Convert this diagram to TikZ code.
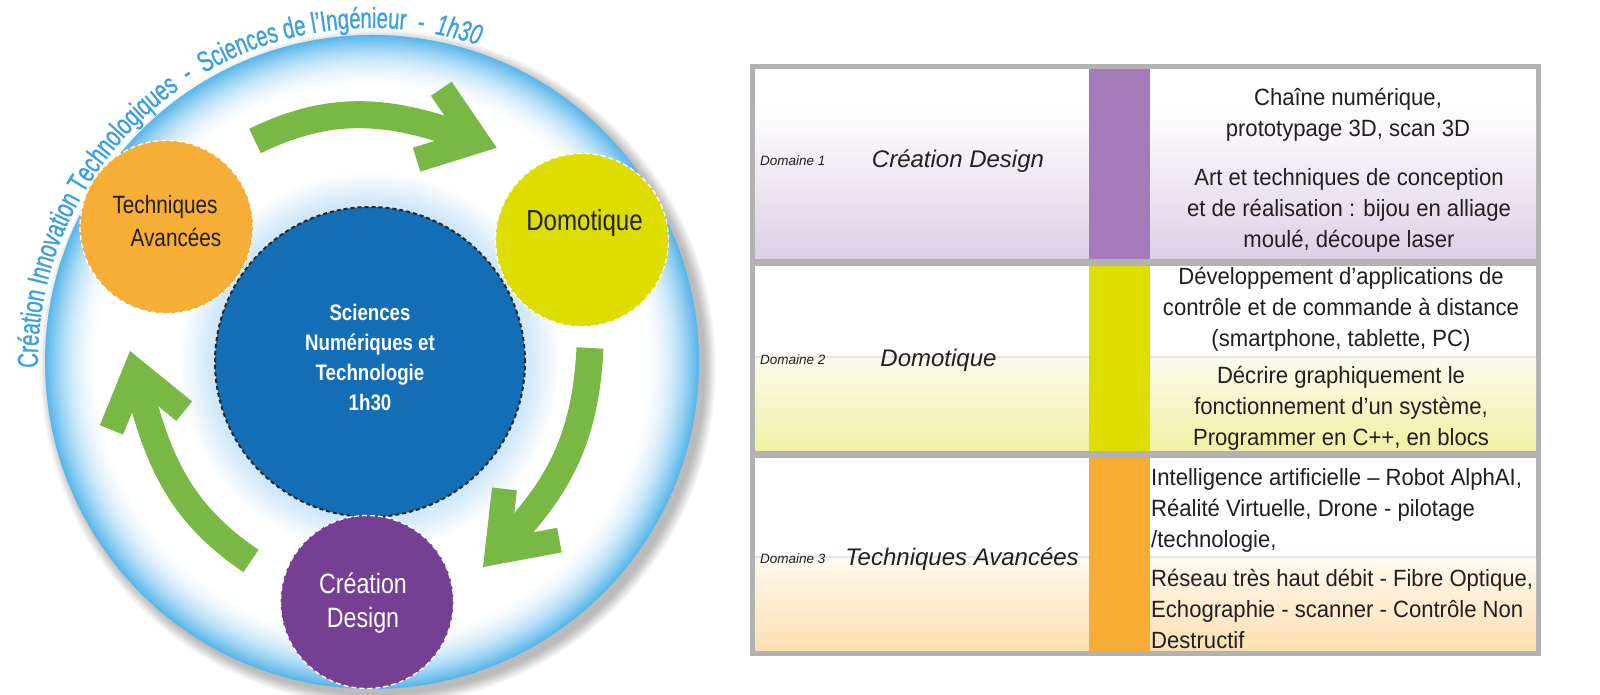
\documentclass[tikz,border=0pt]{standalone}
\usepackage{fontspec}
\setmainfont{Liberation Sans}
\newfontfamily\condfont[FakeStretch=0.83]{Liberation Sans}
\newfontfamily\arcfont[FakeStretch=0.7,FakeBold=0.8]{Liberation Sans}
\newfontfamily\tabfont[FakeStretch=0.94]{Liberation Sans}
\usetikzlibrary{decorations.text,calc}
\definecolor{rimblue}{RGB}{88,182,234}
\definecolor{haloblue}{RGB}{205,230,248}
\definecolor{textblue}{RGB}{60,160,220}
\definecolor{coreblue}{RGB}{20,110,182}
\definecolor{orangeC}{RGB}{246,174,54}
\definecolor{yellowC}{RGB}{221,221,0}
\definecolor{purpleC}{RGB}{117,64,147}
\definecolor{arrowgreen}{RGB}{122,184,70}
\definecolor{tablegray}{RGB}{178,178,178}
\definecolor{barpurple}{RGB}{164,123,185}
\definecolor{baryellow}{RGB}{222,222,0}
\definecolor{barorange}{RGB}{247,173,51}
\definecolor{rowpurple}{RGB}{221,208,230}
\definecolor{rowyellow}{RGB}{240,240,165}
\definecolor{roworange}{RGB}{252,224,178}
\definecolor{ink}{RGB}{35,31,32}
\tikzset{
  smallcirc/.style={circle, minimum size=173pt, inner sep=0pt, draw=white, line width=1.3pt, dash pattern=on 5pt off 3pt},
  corecirc/.style={circle, minimum size=310pt, inner sep=0pt, fill=coreblue, draw=black!85, line width=2pt, dash pattern=on 4pt off 3pt},
  circtext/.style={align=center, inner sep=0pt},
  arrowbody/.style={draw=arrowgreen, line width=27pt},
  arrowhead/.style={fill=arrowgreen},
  cell/.style={font=\tabfont\fontsize{23.5}{31}\selectfont, inner sep=0pt, text=ink},
  rowlabel/.style={font=\itshape\fontsize{24}{28}\selectfont, inner sep=0pt, text=ink},
  domlabel/.style={font=\itshape\fontsize{13.5}{16}\selectfont, inner sep=0pt, text=ink, anchor=west},
}
\begin{document}
\begin{tikzpicture}[x=1pt,y=1pt]
\useasboundingbox (0,0) rectangle (1600,695);
\fill[white] (0,0) rectangle (1600,695);
\coordinate (C) at (372,333);
% drop shadow
\foreach \i in {1,...,12} { \fill[black,opacity=0.022] ([xshift=6pt,yshift=-6pt]C) circle ({339-\i}); }
% ring gradient
\fill[rimblue] (C) circle (327);
\foreach \i in {1,...,40} { \pgfmathsetmacro\pp{100*(1-\i/40)^2} \fill[rimblue!\pp!white] (C) circle ({327-1.4*\i}); }
% halo around core
\foreach \i in {0,...,24} { \pgfmathsetmacro\hh{4*\i} \fill[haloblue!\hh!white] (370,333) circle ({192-1.4*\i}); }
% curved title
\path[decorate, decoration={text along path, text align=left, text color=textblue,
  text={|\arcfont\fontsize{29}{34}\selectfont|Création Innovation Technologiques {\ -\ } Sciences de l’Ingénieur {\ -\ } |\arcfont\fontsize{29}{34}\selectfont\itshape|1h30}}]
  ([shift={(181:334)}]C) arc[start angle=181, end angle=50, radius=334];
% green arrows
\coordinate (a1s) at (255,554);
\coordinate (a1t) at (496.7,547.2);
\coordinate (a1e) at ($(a1t)+(160.8:42)$);
\coordinate (a2s) at (590,347);
\coordinate (a2t) at (483,128);
\coordinate (a2e) at ($(a2t)+(47:42)$);
\coordinate (a3s) at (251,134);
\coordinate (a3t) at (130,344);
\coordinate (a3e) at ($(a3t)+(284.4:42)$);
\draw[arrowbody] (a1s) to[out=26, in=160.8] (a1e);
\draw[arrowbody] (a2s) to[out=-93, in=47] (a2e);
\draw[arrowbody] (a3s) to[out=146, in=284.4] (a3e);
\foreach \t/\ang in {a1t/-19.2, a2t/-133, a3t/104.4} {
  \fill[arrowhead, shift={(\t)}, rotate=\ang] (0,0) -- (-64.3,47.6) -- (-79.2,27.5) -- (-42.1,0) -- (-79.2,-27.5) -- (-64.3,-47.6) -- cycle;
}
% circles
\node[corecirc] (core) at (370,333) {};
\node[circtext, text=white, font=\condfont\bfseries\fontsize{22.5}{30}\selectfont] (coretxt) at (370,337.5) {Sciences\\Numériques et\\Technologie\\1h30};
\node[smallcirc, fill=orangeC] (tech) at (166.5,468) {};
\node[circtext, text=ink, font=\condfont\fontsize{25}{33}\selectfont] (techtxt) at (165,473.5) {Techniques\\\hspace*{22pt}Avancées};
\node[smallcirc, fill=yellowC] (domo) at (582,455) {};
\node[circtext, text=ink, font=\condfont\fontsize{29}{34}\selectfont] (domotxt) at (584.5,472) {Domotique};
\node[smallcirc, fill=purpleC] (crea) at (367,93) {};
\node[circtext, text=white, font=\condfont\fontsize{28}{34}\selectfont] (creatxt) at (363,91.5) {Création\\Design};
% table
\fill[tablegray] (750,39) rectangle (1541,631);
\fill[white] (755,436) rectangle (1536,626);
\shade[top color=white, bottom color=rowpurple] (755,436) rectangle (1536,590);
\fill[white] (755,244) rectangle (1536,429);
\shade[top color=rowyellow!20!white, bottom color=rowyellow] (755,244) rectangle (1536,338);
\draw[black!10, line width=1.2pt] (755,338) -- (1536,338);
\fill[white] (755,44) rectangle (1536,237);
\shade[top color=roworange!20!white, bottom color=roworange] (755,44) rectangle (1536,138);
\draw[black!10, line width=1.2pt] (755,138) -- (1536,138);
\fill[barpurple] (1089,436) rectangle (1150,626);
\fill[baryellow] (1089,244) rectangle (1150,429);
\fill[barorange] (1089,44) rectangle (1150,237);
% table texts
\node[domlabel] (d1) at (760,534) {Domaine 1};
\node[rowlabel] (l1) at (958,534) {Création Design};
\node[domlabel] (d2) at (760,335) {Domaine 2};
\node[rowlabel] (l2) at (938.5,335) {Domotique};
\node[domlabel] (d3) at (760,136) {Domaine 3};
\node[rowlabel] (l3) at (962,136) {Techniques Avancées};
\node[cell, align=center] (c1a) at (1348,580.5) {Chaîne numérique,\\prototypage 3D, scan 3D};
\node[cell, align=center] (c1b) at (1349,485) {Art et techniques de conception\\et de réalisation : bijou en alliage\\moulé, découpe laser};
\node[cell, align=center] (c2a) at (1341,386) {Développement d’applications de\\contrôle et de commande à distance\\(smartphone, tablette, PC)};
\node[cell, align=center] (c2b) at (1341,287) {Décrire graphiquement le\\fonctionnement d’un système,\\Programmer en C++, en blocs};
\node[cell, align=left, anchor=west] (c3a) at (1151,185) {Intelligence artificielle – Robot AlphAI,\\Réalité Virtuelle, Drone - pilotage\\/technologie,};
\node[cell, align=left, anchor=west] (c3b) at (1151,86) {Réseau très haut débit - Fibre Optique,\\Echographie - scanner - Contrôle Non\\Destructif};
\end{tikzpicture}
\end{document}
